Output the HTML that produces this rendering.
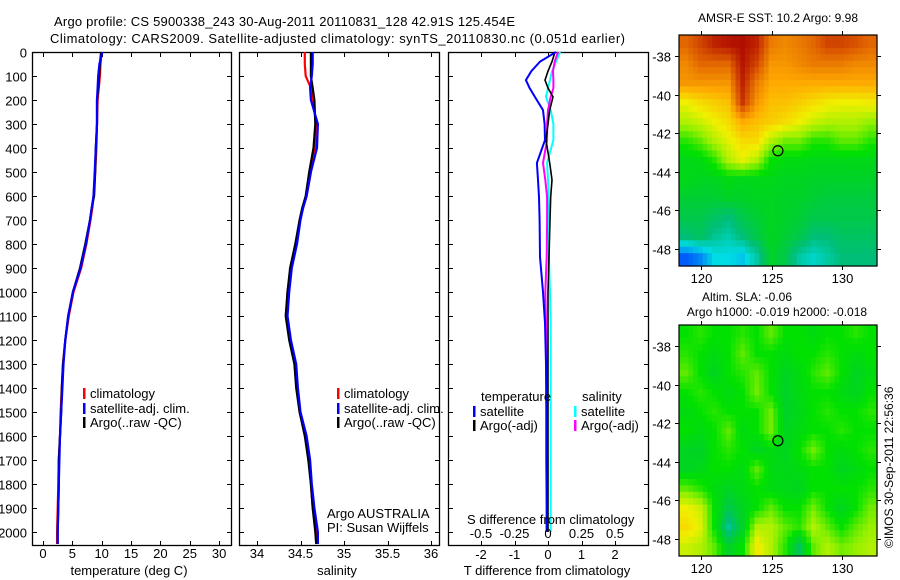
<!DOCTYPE html>
<html><head><meta charset="utf-8">
<style>
html,body{margin:0;padding:0;background:#fff;}
svg{display:block;font-family:"Liberation Sans",sans-serif;font-size:12px;}
</style></head>
<body>
<svg id="fig" width="900" height="580" viewBox="0 0 900 580" xmlns="http://www.w3.org/2000/svg">
<rect width="900" height="580" fill="#fff"/>
<text x="54" y="26" textLength="461" font-size="13">Argo profile: CS 5900338_243 30-Aug-2011 20110831_128 42.91S 125.454E</text>
<text x="50" y="43" textLength="575" font-size="13">Climatology: CARS2009. Satellite-adjusted climatology: synTS_20110830.nc (0.051d earlier)</text>
<g id="p1"></g>
<g id="p2"></g>
<g id="p3"></g>
<g id="m1"></g>
<g id="m2"></g>
<text x="778" y="22" text-anchor="middle">AMSR-E SST: 10.2 Argo: 9.98</text>
<text x="747" y="301" text-anchor="middle">Altim. SLA: -0.06</text>
<text x="777" y="316" text-anchor="middle">Argo h1000: -0.019 h2000: -0.018</text>
<text transform="translate(893,548) rotate(-90)">©IMOS 30-Sep-2011 22:56:36</text>
</svg>
<script>
// ---- profile data ----
const depths = [0,50,100,150,200,300,400,500,600,650,700,800,900,1000,1100,1200,1300,1400,1500,1600,1700,1800,1900,2000,2050];
const tempArgo = [9.9,9.7,9.55,9.4,9.2,9.2,9.0,8.9,8.7,8.3,8.0,7.2,6.3,5.1,4.3,3.8,3.4,3.2,3.1,2.9,2.7,2.7,2.6,2.5,2.5];
const tempClim = [10.0,9.8,9.7,9.5,9.3,9.2,9.1,8.9,8.6,8.4,8.1,7.4,6.5,5.2,4.4,3.8,3.4,3.2,3.0,2.9,2.7,2.6,2.5,2.4,2.4];
const tempSat  = [10.1,9.6,9.4,9.3,9.2,9.2,9.0,8.8,8.6,8.3,8.0,7.3,6.4,5.1,4.3,3.8,3.5,3.3,3.1,2.9,2.8,2.7,2.6,2.5,2.5];
const salArgo = [34.62,34.62,34.62,34.64,34.66,34.67,34.65,34.60,34.56,34.52,34.49,34.44,34.38,34.35,34.33,34.37,34.43,34.45,34.49,34.55,34.59,34.62,34.64,34.67,34.68];
const salClim = [34.55,34.55,34.56,34.62,34.64,34.68,34.67,34.62,34.57,34.53,34.49,34.45,34.39,34.35,34.34,34.38,34.44,34.46,34.49,34.56,34.60,34.62,34.64,34.68,34.69];
const salSat  = [34.64,34.64,34.63,34.61,34.62,34.70,34.69,34.62,34.57,34.53,34.50,34.46,34.40,34.37,34.35,34.39,34.45,34.47,34.50,34.57,34.61,34.63,34.66,34.70,34.70];
const diffDepths = [0,40,80,117,150,187,242,300,367,462,533,604,700,854,1000,1129,1300,1500,1700,1900,2000];
const tDiffSat  = [0.24,-0.24,-0.5,-0.66,-0.55,-0.39,-0.15,-0.1,-0.09,-0.33,-0.3,-0.27,-0.25,-0.24,-0.15,-0.09,-0.06,-0.05,-0.05,-0.04,-0.04];
const tDiffArgo = [0.21,0.12,0.0,-0.09,0.0,0.15,0.05,0.0,-0.06,0.05,0.12,0.08,0.06,0.03,0.0,0.0,0.0,0.0,0.0,0.0,0.0];
const sDiffSat  = [0.09,0.06,0.03,0.015,0.0,-0.015,0.02,0.04,0.04,-0.007,0.0,0.005,0.007,0.007,0.015,0.02,0.02,0.02,0.02,0.02,0.02];
const sDiffArgo = [0.075,0.05,0.037,0.04,0.04,0.02,0.0,-0.007,-0.007,-0.037,-0.02,-0.007,-0.007,-0.01,-0.02,-0.015,-0.01,-0.01,-0.01,-0.01,-0.01];
const depthTicks = [0,100,200,300,400,500,600,700,800,900,1000,1100,1200,1300,1400,1500,1600,1700,1800,1900,2000];
const tempTicks = [0,5,10,15,20,25,30];
const salTicks = [34,34.5,35,35.5,36];
const salTickLabels = ["34","34.5","35","35.5","36"];
const tDiffTicks = [-2,-1,0,1,2];
const sDiffTicks = [-0.5,-0.25,0,0.25,0.5];
const sDiffTickLabels = ["-0.5","-0.25","0","0.25","0.5"];
// ---- map data (colour index 0..1) ----
const sstGrid = [
[0.85,0.9,0.95,0.97,0.98,0.95,0.82,0.8,0.82,0.85,0.9,0.9,0.88,0.85],
[0.8,0.85,0.85,0.85,0.97,0.9,0.78,0.78,0.8,0.82,0.82,0.82,0.8,0.8],
[0.78,0.78,0.78,0.78,0.95,0.82,0.75,0.75,0.75,0.75,0.75,0.75,0.75,0.75],
[0.65,0.68,0.7,0.72,0.92,0.78,0.72,0.72,0.7,0.68,0.66,0.65,0.65,0.66],
[0.6,0.62,0.65,0.68,0.75,0.72,0.7,0.68,0.65,0.62,0.6,0.6,0.6,0.58],
[0.52,0.55,0.6,0.64,0.68,0.68,0.6,0.56,0.56,0.52,0.52,0.55,0.55,0.52],
[0.47,0.48,0.52,0.6,0.64,0.6,0.5,0.48,0.48,0.47,0.47,0.47,0.47,0.47],
[0.47,0.46,0.46,0.48,0.47,0.47,0.47,0.46,0.46,0.45,0.45,0.45,0.45,0.45],
[0.44,0.44,0.44,0.45,0.45,0.46,0.46,0.45,0.45,0.44,0.43,0.43,0.43,0.43],
[0.42,0.42,0.4,0.38,0.42,0.44,0.46,0.45,0.44,0.42,0.42,0.42,0.42,0.42],
[0.38,0.4,0.36,0.34,0.38,0.42,0.46,0.44,0.42,0.38,0.38,0.4,0.4,0.4],
[0.18,0.22,0.3,0.3,0.28,0.35,0.45,0.42,0.35,0.32,0.35,0.38,0.38,0.38]];
const slaGrid = [
[0.5,0.52,0.5,0.5,0.52,0.5,0.55,0.5,0.5,0.48,0.5,0.5,0.52,0.5],
[0.52,0.5,0.48,0.5,0.55,0.5,0.5,0.48,0.5,0.5,0.52,0.5,0.48,0.5],
[0.55,0.5,0.46,0.5,0.52,0.55,0.5,0.46,0.48,0.52,0.55,0.5,0.46,0.48],
[0.5,0.52,0.5,0.48,0.5,0.56,0.5,0.45,0.48,0.5,0.5,0.48,0.46,0.5],
[0.48,0.5,0.52,0.5,0.5,0.5,0.56,0.45,0.47,0.5,0.52,0.5,0.5,0.52],
[0.5,0.48,0.5,0.55,0.48,0.5,0.56,0.46,0.48,0.5,0.5,0.52,0.5,0.5],
[0.46,0.45,0.5,0.52,0.5,0.46,0.48,0.46,0.5,0.56,0.5,0.48,0.5,0.52],
[0.46,0.47,0.5,0.5,0.48,0.55,0.48,0.47,0.48,0.5,0.5,0.46,0.48,0.5],
[0.55,0.52,0.48,0.46,0.48,0.5,0.48,0.47,0.46,0.5,0.5,0.5,0.5,0.52],
[0.65,0.62,0.5,0.42,0.46,0.5,0.55,0.5,0.5,0.56,0.5,0.46,0.5,0.56],
[0.68,0.64,0.5,0.36,0.45,0.6,0.6,0.55,0.52,0.6,0.55,0.5,0.55,0.58],
[0.62,0.6,0.55,0.45,0.5,0.66,0.6,0.52,0.4,0.55,0.6,0.56,0.58,0.6]];
const lonTicks = [120,125,130];
const latTicks = [-38,-40,-42,-44,-46,-48];
const argoLon = 125.454, argoLat = -42.91;

const NS="http://www.w3.org/2000/svg";
function mk(parent, tag, attrs, txt){const e=document.createElementNS(NS,tag);for(const k in attrs)e.setAttribute(k,attrs[k]);if(txt!==undefined)e.textContent=txt;parent.appendChild(e);return e;}

const PT=52, PB=545;
const yD = d => PT + d*0.24;
const xTemp = t => 43 + t*5.87;
const xSal = s => 257 + (s-34)*87;
const xTd = v => 548 + v*33.5;
const xSd = v => 548 + v*134;

function panelFrame(g, x0, x1, ticksX, fx, showY){
  const r = mk(g,'rect',{x:x0+0.5,y:PT+0.5,width:x1-x0,height:PB-PT,fill:'none',stroke:'#000','stroke-width':1.3});
  
  
  depthTicks.forEach(d=>{
    const y=Math.round(yD(d))+0.5;
    mk(g,'line',{x1:x0,y1:y,x2:x0+5,y2:y,stroke:'#000'});
    mk(g,'line',{x1:x1-4,y1:y,x2:x1+1,y2:y,stroke:'#000'});
    if(showY){
      const t=mk(g,'text',{x:27,y:y+5,'text-anchor':'end','font-size':13},String(d));
      
      
    }
  });
  ticksX.forEach(v=>{
    const x=Math.round(fx(v))+0.5;
    mk(g,'line',{x1:x,y1:PT,x2:x,y2:PT+5,stroke:'#000'});
    mk(g,'line',{x1:x,y1:PB-4,x2:x,y2:PB+1,stroke:'#000'});
  });
}
function xLabels(g, ticks, labels, fx, y){
  ticks.forEach((v,i)=>{
    const t=mk(g,'text',{x:fx(v),y:y,'text-anchor':'middle','font-size':13},labels[i]);
    
    
  });
}
function line(g, xs, ds, fx, color, name, w){
  const pts = xs.map((v,i)=>fx(v).toFixed(1)+','+yD(ds[i]).toFixed(1)).join(' ');
  const p=mk(g,'polyline',{points:pts,fill:'none',stroke:color,'stroke-width':w||2.2,'stroke-linejoin':'miter'});
  
  
}
function legend(g, x, y, color, label){
  mk(g,'rect',{x:x,y:y-10,width:2.5,height:11,fill:color});
  const t=mk(g,'text',{x:x+7,y:y,'font-size':13},label);
  
  
}

// Panel 1
const p1=document.getElementById('p1');
panelFrame(p1,32,231,tempTicks,xTemp,true);
line(p1,tempClim,depths,xTemp,'#ff0000','climatology-temp-line');
line(p1,tempArgo,depths,xTemp,'#000','argo-temp-line');
line(p1,tempSat,depths,xTemp,'#0000ff','satellite-temp-line');
xLabels(p1,tempTicks,tempTicks.map(String),xTemp,558);
mk(p1,'text',{x:129,y:575,'text-anchor':'middle','font-size':13},'temperature (deg C)');
legend(p1,83,398,'#ff0000','climatology');
legend(p1,83,413,'#0000ff','satellite-adj. clim.');
legend(p1,83,427,'#000','Argo(..raw -QC)');

// Panel 2
const p2=document.getElementById('p2');
panelFrame(p2,239,439,salTicks,xSal,false);
line(p2,salClim,depths,xSal,'#ff0000','climatology-salinity-line');
line(p2,salArgo,depths,xSal,'#000','argo-salinity-line');
line(p2,salSat,depths,xSal,'#0000ff','satellite-salinity-line');
xLabels(p2,salTicks,salTickLabels,xSal,558);
mk(p2,'text',{x:337,y:575,'text-anchor':'middle','font-size':13},'salinity');
legend(p2,337,398,'#ff0000','climatology');
legend(p2,337,413,'#0000ff','satellite-adj. clim.');
legend(p2,337,427,'#000','Argo(..raw -QC)');
mk(p2,'text',{x:327,y:518,'font-size':13},'Argo AUSTRALIA');
mk(p2,'text',{x:327,y:532,'font-size':13},'PI: Susan Wijffels');

// Panel 3
const p3=document.getElementById('p3');
panelFrame(p3,448,648,tDiffTicks,xTd,false);
line(p3,sDiffSat,diffDepths,xSd,'#00ffff','satellite-salinity-diff-line',2);
line(p3,sDiffArgo,diffDepths,xSd,'#ff00ff','argo-salinity-diff-line',2);
line(p3,tDiffArgo,diffDepths,xTd,'#000','argo-temp-diff-line',1.6);
line(p3,tDiffSat,diffDepths,xTd,'#0000ff','satellite-temp-diff-line',2);
xLabels(p3,tDiffTicks,tDiffTicks.map(String),xTd,559);
xLabels(p3,sDiffTicks,sDiffTickLabels,xSd,538);
mk(p3,'text',{x:547,y:575,'text-anchor':'middle','font-size':13},'T difference from climatology');
mk(p3,'text',{x:467,y:524,'font-size':13},'S difference from climatology');
mk(p3,'text',{x:481,y:401,'font-size':13},'temperature');
mk(p3,'text',{x:582,y:401,'font-size':13},'salinity');
legend(p3,473,416,'#0000ff','satellite');
legend(p3,473,430,'#000','Argo(-adj)');
legend(p3,574,416,'#00ffff','satellite');
legend(p3,574,430,'#ff00ff','Argo(-adj)');

// Maps
const stops=[[0,[0,0,140]],[0.15,[0,60,255]],[0.3,[0,220,230]],[0.38,[0,190,120]],[0.45,[0,210,40]],[0.5,[0,225,0]],[0.58,[150,240,0]],[0.65,[240,240,0]],[0.75,[255,170,0]],[0.87,[220,90,0]],[1,[170,0,0]]];
function cmap(v){
  v=Math.max(0,Math.min(1,v));
  for(let i=1;i<stops.length;i++){ if(v<=stops[i][0]){const a=stops[i-1],b=stops[i];const f=(v-a[0])/(b[0]-a[0]);
    return 'rgb('+a[1].map((c,k)=>Math.round(c+(b[1][k]-c)*f)).join(',')+')';}}
  return 'rgb(170,0,0)';
}
function drawMap(g, grid, top, name){
  const L=679,R=877,T=top,B=top+231;
  const lonX = lon => 701 + (lon-120)*14.1;
  const latY = lat => top+21 + (-38-lat)*19.3;
  const rows=grid.length, cols=grid[0].length, up=3;
  const cw=(R-L)/(cols*up), ch=(B-T)/(rows*up);
  function samp(r,c){r=Math.max(0,Math.min(rows-1,r));c=Math.max(0,Math.min(cols-1,c));
    const r0=Math.floor(r),c0=Math.floor(c),r1=Math.min(rows-1,r0+1),c1=Math.min(cols-1,c0+1),fr=r-r0,fc=c-c0;
    return grid[r0][c0]*(1-fr)*(1-fc)+grid[r0][c1]*(1-fr)*fc+grid[r1][c0]*fr*(1-fc)+grid[r1][c1]*fr*fc;}
  const cg=mk(g,'g',{});
  
  
  for(let i=0;i<rows*up;i++)for(let j=0;j<cols*up;j++){
    const v=samp((i+0.5)/up-0.5,(j+0.5)/up-0.5);
    mk(cg,'rect',{x:(L+j*cw).toFixed(2),y:(T+i*ch).toFixed(2),width:(cw+0.6).toFixed(2),height:(ch+0.6).toFixed(2),fill:cmap(v)});
  }
  const fr=mk(g,'rect',{x:L,y:T,width:R-L,height:B-T,fill:'none',stroke:'#000','stroke-width':1.2});
  
  
  latTicks.forEach(lat=>{const y=Math.round(latY(lat))+0.5;
    mk(g,'line',{x1:L-4,y1:y,x2:L,y2:y,stroke:'#000'});mk(g,'line',{x1:R,y1:y,x2:R+4,y2:y,stroke:'#000'});
    const t=mk(g,'text',{x:671,y:y+5,'text-anchor':'end','font-size':13},String(lat));
    
    });
  lonTicks.forEach(lon=>{const x=Math.round(lonX(lon))+0.5;
    mk(g,'line',{x1:x,y1:T-4,x2:x,y2:T,stroke:'#000'});mk(g,'line',{x1:x,y1:B,x2:x,y2:B+4,stroke:'#000'});
    const t=mk(g,'text',{x:x,y:B+17,'text-anchor':'middle','font-size':13},String(lon));
    
    });
  const c=mk(g,'circle',{cx:lonX(argoLon),cy:latY(argoLat),r:5,fill:'none',stroke:'#000','stroke-width':1.2});
  
  
}
drawMap(document.getElementById('m1'),sstGrid,35,'sst-map');
drawMap(document.getElementById('m2'),slaGrid,325,'sla-map');
</script>
</body></html>
